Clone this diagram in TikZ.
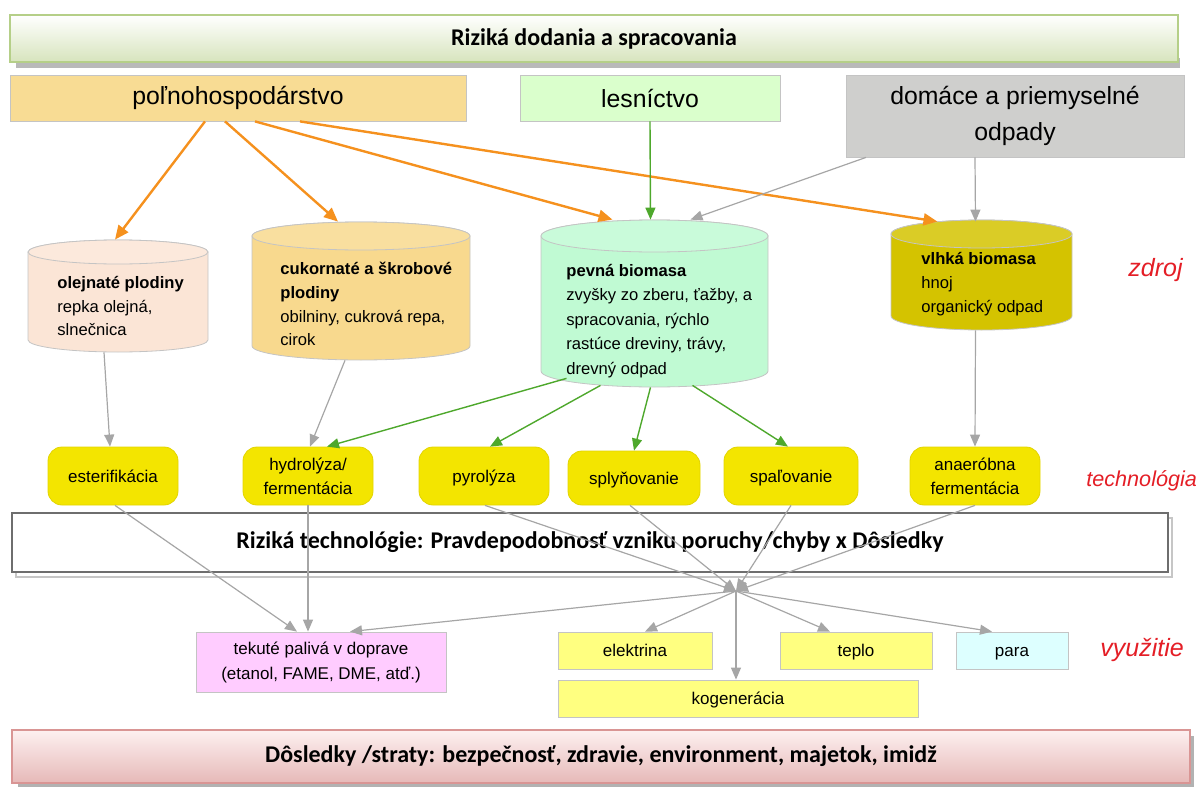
\documentclass[tikz,border=0pt]{standalone}
\usepackage{fontspec}
\setmainfont{Liberation Sans}
\newfontfamily\calib{Carlito}
\usetikzlibrary{arrows.meta}

\definecolor{banbot}{HTML}{D7E4BD}
\definecolor{banline}{HTML}{B5CF88}
\definecolor{dosltop}{HTML}{FDF0F0}
\definecolor{doslbot}{HTML}{E6B9B8}
\definecolor{dosline}{HTML}{D99594}
\definecolor{boxline}{HTML}{C4C4C4}
\definecolor{polnofill}{HTML}{F8DC94}
\definecolor{lesfill}{HTML}{DAFFCC}
\definecolor{domfill}{HTML}{CFCFCD}
\definecolor{olejfill}{HTML}{FBE5D6}
\definecolor{cukorfill}{HTML}{F8D98E}
\definecolor{pevnafill}{HTML}{C0FAD3}
\definecolor{vlhkafill}{HTML}{D4C300}
\definecolor{techyellow}{HTML}{F3E500}
\definecolor{techline}{HTML}{E2D400}
\definecolor{outyellow}{HTML}{FFFF80}
\definecolor{tekfill}{HTML}{FFCCFF}
\definecolor{parafill}{HTML}{DDFFFF}
\definecolor{midline}{HTML}{6E6E6E}
\definecolor{arrorange}{HTML}{F5911E}
\definecolor{arrgreen}{HTML}{4EA82C}
\definecolor{arrgray}{HTML}{A6A6A6}
\definecolor{tagred}{HTML}{E41E26}

% cylinder body: x1, x2, top, bottom, y radius, fill
\newcommand{\cylbody}[6]{%
  \filldraw[fill=#6, draw=boxline] (#1,#3+#5) -- (#1,#4-#5)
    arc[start angle=180, end angle=0, x radius={(#2-#1)/2}, y radius=#5]
    -- (#2,#3+#5)
    arc[start angle=0, end angle=-180, x radius={(#2-#1)/2}, y radius=#5] -- cycle;
  \filldraw[fill=#6!85!white, draw=boxline] ({(#1+#2)/2},#3+#5)
    ellipse[x radius={(#2-#1)/2}, y radius=#5];
}

\begin{document}
\begin{tikzpicture}[x=0.5pt, y=-0.5pt,
  banner/.style={font=\calib\bfseries\fontsize{12}{14}\selectfont, inner sep=0},
  src/.style={draw=boxline, align=center, inner sep=0, font=\fontsize{12.4}{18}\selectfont},
  cylbox/.style={inner sep=0},
  txt/.style={anchor=west, align=left, inner sep=0, font=\fontsize{8.3}{11.9}\selectfont},
  tech/.style={draw=techline, fill=techyellow, rounded corners=7pt, minimum width=65pt,
    minimum height=29pt, align=center, inner sep=1pt, font=\fontsize{8.5}{12}\selectfont},
  usebox/.style={draw=boxline, fill=outyellow, minimum height=18.5pt, align=center, inner sep=0,
    font=\fontsize{8.5}{12.5}\selectfont},
  oneline/.style={text height=7.2pt, text depth=1.2pt},
  tag/.style={text=tagred, anchor=west, inner sep=0, font=\itshape\fontsize{12.5}{14}\selectfont},
  orr/.style={draw=arrorange, line width=1.2pt, -{Triangle[length=7pt,width=6pt]}},
  grn/.style={draw=arrgreen, line width=0.7pt, -{Triangle[length=6pt,width=5pt]}},
  gry/.style={draw=arrgray, line width=0.6pt, -{Triangle[length=6pt,width=5pt]}}]
\useasboundingbox (0,0) rectangle (1200,787);

% Top banner
\fill[gray!55] (16,58) rectangle (1180,68);
\node[banner, draw=banline, line width=0.9pt, top color=white, bottom color=banbot,
  minimum width=584pt, minimum height=23.5pt] (riz1) at (594,38.5) {Riziká dodania a spracovania};

% Sources
\node[src, fill=polnofill, minimum width=228pt, minimum height=23pt] (polno) at (238,98) {poľnohospodárstvo};
\node[src, fill=lesfill, minimum width=130pt, minimum height=23pt] (lesn) at (650,98) {lesníctvo};
\node[src, fill=domfill, minimum width=169pt, minimum height=41pt] (domace) at (1015,116) {domáce a priemyselné\\odpady};

% Biomass cylinders
\cylbody{28}{208}{240}{352}{12}{olejfill}
\cylbody{252}{470}{222}{360}{14}{cukorfill}
\cylbody{541}{768}{220}{387}{16}{pevnafill}
\cylbody{891}{1072}{220}{330}{14}{vlhkafill}
\node[cylbox, minimum width=90pt, minimum height=56pt] (olej) at (118,296) {};
\node[cylbox, minimum width=109pt, minimum height=69pt] (cukor) at (361,291) {};
\node[cylbox, minimum width=113.5pt, minimum height=83.5pt] (pevna) at (654.5,303.5) {};
\node[cylbox, minimum width=90.5pt, minimum height=55pt] (vlhka) at (981.5,275) {};
\node[txt] (olejtxt) at (57,306) {\textbf{olejnaté plodiny}\\repka olejná,\\slnečnica};
\node[txt] (cukortxt) at (280,304) {\textbf{cukornaté a škrobové}\\\textbf{plodiny}\\obilniny, cukrová repa,\\cirok};
\node[txt, font=\fontsize{8.3}{12.2}\selectfont] (pevnatxt) at (566,321) {\textbf{pevná biomasa}\\zvyšky zo zberu, ťažby, a\\spracovania, rýchlo\\rastúce dreviny, trávy,\\drevný odpad};
\node[txt] (vlhkatxt) at (921,284) {\textbf{vlhká biomasa}\\hnoj\\organický odpad};

% Technologies
\node[tech, oneline] (ester) at (113,476) {esterifikácia};
\node[tech] (hydro) at (308,476) {hydrolýza/\\fermentácia};
\node[tech, oneline] (pyro) at (484,476) {pyrolýza};
\node[tech, oneline, minimum width=66pt, minimum height=27pt] (sply) at (634,478) {splyňovanie};
\node[tech, oneline, minimum width=67pt] (spal) at (791,476) {spaľovanie};
\node[tech] (anaer) at (975,476) {anaeróbna\\fermentácia};

% Technology risks
\draw[gray!45, line width=1.2pt] (16,518) rectangle (1172,577);
\node[banner, draw=midline, line width=1.1pt, fill=white, minimum width=578pt,
  minimum height=29.5pt] (riz2) at (590,542.5) {Riziká technológie: Pravdepodobnosť vzniku poruchy/chyby x Dôsledky};

% Uses
\node[usebox, fill=tekfill, minimum width=125pt, minimum height=30pt] (tek) at (321,662) {tekuté palivá v doprave\\(etanol, FAME, DME, atď.)};
\node[usebox, oneline, minimum width=77pt] (elek) at (635,650.5) {elektrina};
\node[usebox, oneline, minimum width=76pt] (teplo) at (856,650.5) {teplo};
\node[usebox, oneline, fill=parafill, minimum width=56pt] (para) at (1012,650.5) {para};
\node[usebox, oneline, minimum width=180pt] (kogen) at (738,698.5) {kogenerácia};
\coordinate (hub) at (736,591);

% Consequences
\fill[gray!60] (18,736) rectangle (1194,787);
\node[banner, draw=dosline, line width=0.9pt, top color=dosltop, bottom color=doslbot,
  minimum width=589pt, minimum height=26.5pt] (dosl) at (601,756.5) {Dôsledky /straty: bezpečnosť, zdravie, environment, majetok, imidž};

% Sources to biomass
\draw[orr] ([xshift=-16.5pt]polno.south) -- ([xshift=-1.5pt]olej.north);
\draw[orr] ([xshift=-6.5pt]polno.south) -- ([xshift=-11.5pt]cukor.north);
\draw[orr] ([xshift=8.5pt]polno.south) -- ([xshift=-21pt]pevna.north);
\draw[orr] ([xshift=31pt]polno.south) -- ([xshift=-22pt,yshift=-1pt]vlhka.north);
\draw[grn] (lesn.south) -- ([xshift=-2pt]pevna.north);
\draw[gry] ([xshift=-74.5pt]domace.south) -- ([xshift=18pt]pevna.north);
\draw[gry] ([xshift=-20pt]domace.south) -- ([xshift=-3pt,yshift=-1pt]vlhka.north);

% Biomass to technologies
\draw[gry] ([xshift=-7pt]olej.south) -- ([xshift=-1.5pt]ester.north);
\draw[gry] ([xshift=-8pt]cukor.south) -- ([xshift=1pt]hydro.north);
\draw[grn] ([xshift=-44pt,yshift=4.5pt]pevna.south) -- ([xshift=9.5pt]hydro.north);
\draw[grn] ([xshift=-27pt,yshift=1pt]pevna.south) -- ([xshift=3pt]pyro.north);
\draw[grn] ([xshift=-2pt]pevna.south) -- (sply.north);
\draw[grn] ([xshift=19pt,yshift=1pt]pevna.south) -- ([xshift=-1.5pt]spal.north);
\draw[gry] ([xshift=-3pt]vlhka.south) -- (anaer.north);

% Technologies to uses
\draw[gry] ([xshift=1pt]ester.south) -- ([xshift=-12pt]tek.north);
\draw[gry] (hydro.south) -- ([xshift=-6.5pt]tek.north);
\draw[gry] ([xshift=0.5pt]pyro.south) -- (hub);
\draw[gry] ([xshift=-2pt]sply.south) -- (hub);
\draw[gry] (spal.south) -- (hub);
\draw[gry] (anaer.south) -- (hub);
\draw[gry] (hub) -- ([xshift=14.5pt]tek.north);
\draw[gry] (hub) -- ([xshift=5pt]elek.north);
\draw[gry] (hub) -- (hub |- kogen.north);
\draw[gry] (hub) -- ([xshift=-13pt]teplo.north);
\draw[gry] (hub) -- ([xshift=-10pt]para.north);

% Level tags
\node[tag] (zdroj) at (1128,270) {zdroj};
\node[tag, font=\itshape\fontsize{10.8}{14}\selectfont] (techn) at (1086,481) {technológia};
\node[tag] (vyuz) at (1100,650) {využitie};
\end{tikzpicture}
\end{document}
